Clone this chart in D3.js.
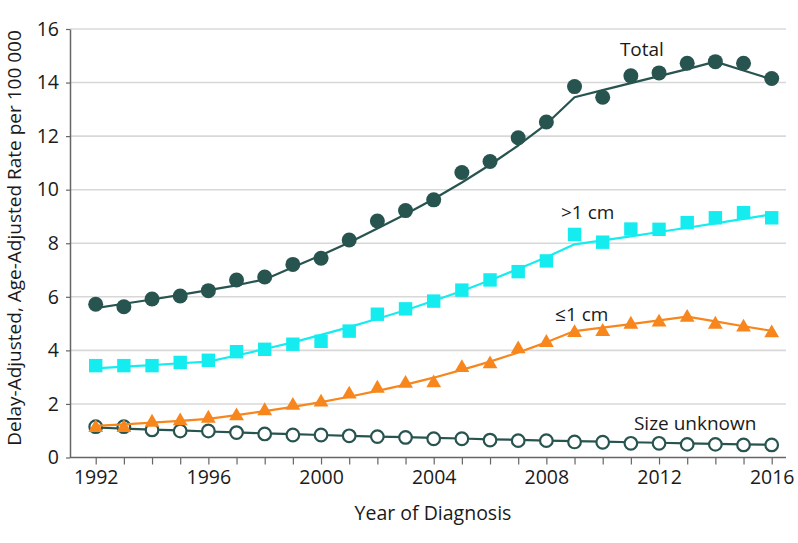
<!DOCTYPE html>
<html>
<head>
<meta charset="utf-8">
<script src="https://cdn.jsdelivr.net/npm/d3@7"></script>
<style>
  html, body { margin: 0; padding: 0; background: #fff; }
  svg { display: block; font-family: "Open Sans", Lato, sans-serif; }
</style>
</head>
<body>
<svg id="chart" width="798" height="543"></svg>
<script>
// ---- data ----
const years = [1992,1993,1994,1995,1996,1997,1998,1999,2000,2001,2002,2003,2004,
               2005,2006,2007,2008,2009,2010,2011,2012,2013,2014,2015,2016];

const totalObs = [5.72,5.63,5.92,6.03,6.23,6.63,6.74,7.21,7.44,8.12,8.83,9.22,9.62,
                  10.64,11.05,11.94,12.53,13.85,13.45,14.25,14.36,14.72,14.78,14.72,14.15];
const totalFit = [5.58,5.74,5.90,6.07,6.25,6.43,6.65,7.10,7.55,8.03,8.55,9.08,9.65,
                  10.27,10.93,11.65,12.45,13.45,13.72,13.98,14.24,14.50,14.78,14.45,14.12];

const gt1Obs = [3.43,3.43,3.43,3.55,3.63,3.95,4.04,4.23,4.34,4.72,5.35,5.55,5.84,
                6.25,6.63,6.94,7.34,8.33,8.04,8.53,8.52,8.77,8.95,9.14,8.95];
const gt1Fit = [3.33,3.39,3.45,3.52,3.58,3.81,4.05,4.30,4.58,4.87,5.18,5.50,5.85,
                6.22,6.62,7.04,7.48,7.96,8.11,8.26,8.42,8.58,8.74,8.91,9.08];

const le1Obs = [1.11,1.11,1.31,1.36,1.46,1.55,1.74,1.94,2.06,2.36,2.58,2.76,2.78,
                3.35,3.49,4.05,4.29,4.66,4.70,4.97,5.05,5.23,4.97,4.86,4.65];
const le1Fit = [1.18,1.24,1.30,1.37,1.44,1.58,1.73,1.89,2.07,2.27,2.49,2.72,2.98,
                3.27,3.58,3.92,4.30,4.72,4.85,4.98,5.12,5.26,5.08,4.90,4.73];

const unkObs = [1.15,1.15,1.03,0.99,0.99,0.93,0.88,0.84,0.84,0.81,0.78,0.75,0.70,
                0.70,0.65,0.63,0.63,0.58,0.57,0.53,0.53,0.49,0.49,0.47,0.47];
const unkFit = [1.12,1.08,1.04,1.01,0.97,0.94,0.90,0.87,0.84,0.81,0.78,0.76,0.73,
                0.71,0.68,0.66,0.63,0.61,0.59,0.57,0.55,0.53,0.51,0.49,0.48];

const yTicks = [0,2,4,6,8,10,12,14,16];
const xLabelTicks = [1992,1996,2000,2004,2008,2012,2016];

const seriesNames = ["Size unknown","≤1 cm",">1 cm","Total"];
const labelYears  = [2011.11, 2008.31, 2008.52, 2010.61];
const labelValues = [1.03, 5.10, 8.91, 14.99];

// ---- layout ----
const svg = d3.select("#chart");
const FONT = "19.5px";
const axisLeftX = 70, axisRightX = 786;
const x = d3.scaleLinear().domain([1992, 2016]).range([95.7, 771.7]);
const y = d3.scaleLinear().domain([0, 16]).range([457.5, 29]);

const C_DARK = "#285450", C_CYAN = "#14ecf0", C_ORANGE = "#f7861c";
const textColor = "#1a1a1a";

// gridlines
svg.append("g").selectAll("line").data(yTicks.filter(d => d > 0)).join("line")
  .attr("x1", axisLeftX).attr("x2", axisRightX)
  .attr("y1", d => y(d)).attr("y2", d => y(d))
  .attr("stroke", "#d8d8d8").attr("stroke-width", 1.6);

// y axis
const yAxis = svg.append("g").attr("transform", `translate(${axisLeftX},0)`)
  .call(d3.axisLeft(y).tickValues(yTicks).tickSize(4).tickSizeOuter(0).tickPadding(7));
yAxis.select(".domain").attr("stroke", "#666").attr("stroke-width", 1.5);
yAxis.selectAll(".tick line").attr("stroke", "#666").attr("stroke-width", 1.2);
yAxis.selectAll("text").attr("fill", textColor).style("font-size", FONT)
  .style("font-family", "'Open Sans', sans-serif");

// x axis: minor ticks every year, labels every 4 years
const xAxisY = y(0);
const xMinor = svg.append("g").attr("transform", `translate(0,${xAxisY})`)
  .call(d3.axisBottom(x).tickValues(years).tickSize(7).tickFormat(""));
xMinor.select(".domain").remove();
xMinor.selectAll(".tick line").attr("stroke", "#666").attr("stroke-width", 1.2);

const xLab = svg.append("g").attr("transform", `translate(0,${xAxisY})`)
  .call(d3.axisBottom(x).tickValues(xLabelTicks).tickSize(0).tickPadding(13).tickFormat(d3.format("d")));
xLab.select(".domain").remove();
xLab.selectAll("text").attr("fill", textColor).style("font-size", FONT)
  .style("font-family", "'Open Sans', sans-serif");

svg.append("line").attr("x1", axisLeftX).attr("x2", axisRightX)
  .attr("y1", xAxisY).attr("y2", xAxisY).attr("stroke", "#666").attr("stroke-width", 1.5);

// axis titles
svg.append("text").attr("x", 433).attr("y", 520).attr("text-anchor", "middle")
  .attr("fill", textColor).style("font-size", FONT).text("Year of Diagnosis");
svg.append("text").attr("transform", "translate(21,238) rotate(-90)").attr("text-anchor", "middle")
  .attr("fill", textColor).style("font-size", "19px")
  .text("Delay-Adjusted, Age-Adjusted Rate per 100 000");

// series
const line = d3.line().x((d, i) => x(years[i])).y(d => y(d));
const series = [
  { name: seriesNames[0], obs: unkObs, fit: unkFit, color: C_DARK, shape: "open" },
  { name: seriesNames[1], obs: le1Obs, fit: le1Fit, color: C_ORANGE, shape: "triangle" },
  { name: seriesNames[2], obs: gt1Obs, fit: gt1Fit, color: C_CYAN, shape: "square" },
  { name: seriesNames[3], obs: totalObs, fit: totalFit, color: C_DARK, shape: "circle" }
];

series.forEach(s => {
  const g = svg.append("g");
  g.append("path").datum(s.fit).attr("d", line)
    .attr("fill", "none").attr("stroke", s.color).attr("stroke-width", 2.2)
    .attr("stroke-linejoin", "round");
  const pts = g.selectAll(".pt").data(s.obs).join("g")
    .attr("transform", (d, i) => `translate(${x(years[i])},${y(d)})`);
  if (s.shape === "circle") {
    pts.append("circle").attr("r", 7.5).attr("fill", s.color);
  } else if (s.shape === "open") {
    pts.append("circle").attr("r", 6.3).attr("fill", "#fff")
      .attr("stroke", s.color).attr("stroke-width", 2.2);
  } else if (s.shape === "square") {
    pts.append("path").attr("d", d3.symbol(d3.symbolSquare, 180)).attr("fill", s.color);
  } else if (s.shape === "triangle") {
    pts.append("path").attr("d", d3.symbol(d3.symbolTriangle, 95)).attr("fill", s.color);
  }
});

// series labels
svg.append("g").selectAll("text").data(seriesNames).join("text")
  .attr("x", (d, i) => x(labelYears[i]))
  .attr("y", (d, i) => y(labelValues[i]))
  .attr("fill", textColor).style("font-size", "19px")
  .text(d => d);
</script>
</body>
</html>
